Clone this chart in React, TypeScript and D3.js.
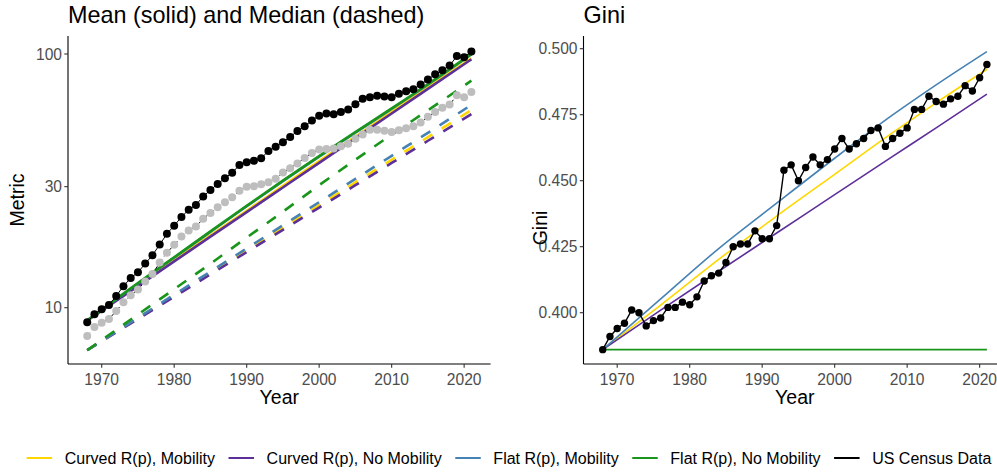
import React, { useEffect, useRef } from "react";
import * as d3 from "d3";

const W = 997;
const H = 472;

// ---------- Census data ----------
const years = [
  1968, 1969, 1970, 1971, 1972, 1973, 1974, 1975, 1976, 1977, 1978, 1979, 1980, 1981, 1982, 1983, 1984, 1985,
  1986, 1987, 1988, 1989, 1990, 1991, 1992, 1993, 1994, 1995, 1996, 1997, 1998, 1999, 2000, 2001, 2002, 2003,
  2004, 2005, 2006, 2007, 2008, 2009, 2010, 2011, 2012, 2013, 2014, 2015, 2016, 2017, 2018, 2019, 2020, 2021,
];
const censusMean = [
  8.76, 9.43, 9.87, 10.24, 11.12, 12.16, 13.09, 13.78, 14.92, 16.1, 17.73, 19.55, 21.06, 22.79, 24.31, 25.4, 27.46,
  29.07, 30.76, 32.41, 34.02, 36.52, 37.4, 37.92, 38.84, 41.43, 43.13, 44.94, 47.12, 49.69, 51.86, 54.74, 57.14,
  58.21, 57.85, 59.07, 60.47, 63.34, 66.57, 67.61, 68.42, 67.98, 67.53, 69.68, 71.27, 72.64, 75.74, 79.26, 83.14,
  86.22, 90.02, 98.09, 97.03, 102.32,
];
const censusMedian = [
  7.74, 8.39, 8.73, 9.03, 9.7, 10.51, 11.2, 11.8, 12.69, 13.57, 15.06, 16.46, 17.71, 19.07, 20.17, 20.89, 22.42,
  23.62, 24.9, 26.06, 27.23, 28.91, 29.94, 30.13, 30.64, 31.24, 32.26, 34.08, 35.49, 37.01, 38.89, 40.7, 41.99,
  42.23, 42.41, 43.32, 44.33, 46.33, 48.2, 50.23, 50.3, 49.78, 49.28, 50.05, 51.02, 51.94, 53.66, 56.52, 59.04,
  61.37, 63.18, 68.7, 67.52, 70.78,
];
const censusGini = [
  0.386, 0.391, 0.394, 0.396, 0.401, 0.4, 0.395, 0.397, 0.398, 0.402, 0.402, 0.404, 0.403, 0.406, 0.412, 0.414,
  0.415, 0.419, 0.425, 0.426, 0.426, 0.431, 0.428, 0.428, 0.433, 0.454, 0.456, 0.45, 0.455, 0.459, 0.456, 0.458,
  0.462, 0.466, 0.462, 0.464, 0.466, 0.469, 0.47, 0.463, 0.466, 0.468, 0.47, 0.477, 0.477, 0.482, 0.48, 0.479,
  0.481, 0.482, 0.486, 0.484, 0.489, 0.494,
];

// ---------- Model lines (read at selected years) ----------
const modelYears = [1968, 1975, 1980, 1985, 1990, 1995, 2000, 2005, 2010, 2015, 2021];
const meanCurvedMob = [8.9, 12.3, 15.4, 19.3, 24.1, 30.2, 37.8, 47.3, 59.1, 73.9, 96.2];
const meanCurvedNoMob = [8.9, 12.17, 15.22, 19.05, 23.81, 29.78, 37.25, 46.6, 58.3, 72.9, 95.3];
const meanFlatMob = [8.9, 12.45, 15.75, 19.9, 25.1, 31.55, 39.4, 49.0, 60.7, 75.7, 99.6];
const meanFlatNoMob = [8.9, 12.5, 15.8, 20.0, 25.2, 31.7, 39.6, 49.2, 61.0, 76.0, 100.0];
const medianCurvedMob = [6.8, 9.07, 11.14, 13.69, 16.81, 20.65, 25.37, 31.2, 38.3, 47.0, 60.1];
const medianCurvedNoMob = [6.8, 9.03, 11.05, 13.53, 16.56, 20.27, 24.81, 30.4, 37.2, 45.5, 58.0];
const medianFlatMob = [6.8, 9.12, 11.26, 13.88, 17.13, 21.13, 26.07, 32.2, 39.7, 48.9, 63.0];
const medianFlatNoMob = [6.8, 9.4, 11.83, 14.91, 18.9, 23.9, 30.4, 38.3, 48.1, 60.0, 78.5];

const giniYears = [1968, 1976, 1984, 1992, 2000, 2008, 2014, 2021];
const giniCurvedMob = [0.386, 0.4029, 0.4202, 0.4366, 0.4524, 0.4682, 0.4795, 0.4922];
const giniCurvedNoMob = [0.386, 0.401, 0.4157, 0.4302, 0.4447, 0.4592, 0.47, 0.4828];
const giniFlatMob = [0.386, 0.4052, 0.4243, 0.4415, 0.4585, 0.4749, 0.4863, 0.4989];
const giniFlatNoMob = [0.386, 0.386, 0.386, 0.386, 0.386, 0.386, 0.386, 0.386];

const xTicks = [1970, 1980, 1990, 2000, 2010, 2020];
const metricTicks = [10, 30, 100];
const giniTicks = [0.4, 0.425, 0.45, 0.475, 0.5];

const seriesNames = [
  "Curved R(p), Mobility",
  "Curved R(p), No Mobility",
  "Flat R(p), Mobility",
  "Flat R(p), No Mobility",
  "US Census Data",
];
const seriesColors = ["#FFD700", "#5D2F99", "#4682B4", "#18951A", "#000000"];

const FONT = "'Liberation Sans', Arial, Helvetica, sans-serif";

export default function App() {
  const ref = useRef<SVGSVGElement | null>(null);

  useEffect(() => {
    const svg = d3.select(ref.current);
    svg.selectAll("*").remove();
    svg.attr("font-family", FONT);

    const top = 36;
    const bottom = 364;
    const xDomain: [number, number] = [1965.35, 2023.65];
    const smooth = d3.curveMonotoneX;

    // ------- Left panel -------
    const L = { left: 68, right: 490.6 };
    const xL = d3.scaleLinear().domain(xDomain).range([L.left, L.right]);
    const yL = d3.scaleLog().domain([10, 100]).range([307.7, 54]);

    const gL = svg.append("g");
    const lineL = (ys: number[]) =>
      d3
        .line<number>()
        .curve(smooth)
        .x((_, i) => xL(modelYears[i]))
        .y((d) => yL(d))(ys);

    const solid = [meanCurvedMob, meanCurvedNoMob, meanFlatMob, meanFlatNoMob];
    const dashed = [medianCurvedMob, medianCurvedNoMob, medianFlatMob, medianFlatNoMob];
    dashed.forEach((s, i) => {
      gL.append("path")
        .attr("d", lineL(s))
        .attr("fill", "none")
        .attr("stroke", seriesColors[i])
        .attr("stroke-width", 2.6)
        .attr("stroke-dasharray", "11,11");
    });
    solid.forEach((s, i) => {
      gL.append("path")
        .attr("d", lineL(s))
        .attr("fill", "none")
        .attr("stroke", seriesColors[i])
        .attr("stroke-width", 2.6);
    });

    const cLine = (vals: number[]) =>
      d3
        .line<number>()
        .x((_, i) => xL(years[i]))
        .y((d) => yL(d))(vals);
    gL.append("path")
      .attr("d", cLine(censusMean))
      .attr("fill", "none")
      .attr("stroke", "#000")
      .attr("stroke-width", 1);
    gL.append("path")
      .attr("d", cLine(censusMedian))
      .attr("fill", "none")
      .attr("stroke", "#000")
      .attr("stroke-width", 1)
      .attr("stroke-dasharray", "4,4");
    gL.selectAll("circle.mean")
      .data(censusMean)
      .join("circle")
      .attr("class", "mean")
      .attr("cx", (_, i) => xL(years[i]))
      .attr("cy", (d) => yL(d))
      .attr("r", 4)
      .attr("fill", "#000");
    gL.selectAll("circle.med")
      .data(censusMedian)
      .join("circle")
      .attr("class", "med")
      .attr("cx", (_, i) => xL(years[i]))
      .attr("cy", (d) => yL(d))
      .attr("r", 4)
      .attr("fill", "#BEBEBE");

    const axisColor = "#000";
    const tickColor = "#333333";
    const labColor = "#4D4D4D";
    gL.append("line")
      .attr("x1", L.left).attr("x2", L.left).attr("y1", top).attr("y2", bottom)
      .attr("stroke", axisColor).attr("stroke-width", 1.1);
    gL.append("line")
      .attr("x1", L.left).attr("x2", L.right).attr("y1", bottom).attr("y2", bottom)
      .attr("stroke", axisColor).attr("stroke-width", 1.1);
    metricTicks.forEach((t) => {
      gL.append("line")
        .attr("x1", L.left - 3.7).attr("x2", L.left).attr("y1", yL(t)).attr("y2", yL(t))
        .attr("stroke", tickColor).attr("stroke-width", 1.1);
      gL.append("text")
        .attr("x", L.left - 6).attr("y", yL(t)).attr("dy", "0.36em")
        .attr("text-anchor", "end").attr("font-size", 15.6).attr("fill", labColor)
        .text(String(t));
    });
    xTicks.forEach((t) => {
      gL.append("line")
        .attr("x1", xL(t)).attr("x2", xL(t)).attr("y1", bottom).attr("y2", bottom + 3.7)
        .attr("stroke", tickColor).attr("stroke-width", 1.1);
      gL.append("text")
        .attr("x", xL(t)).attr("y", bottom + 6).attr("dy", "0.95em")
        .attr("text-anchor", "middle").attr("font-size", 15.6).attr("fill", labColor)
        .text(String(t));
    });
    gL.append("text")
      .attr("x", (L.left + L.right) / 2).attr("y", 404)
      .attr("text-anchor", "middle").attr("font-size", 19.5).attr("fill", "#000")
      .text("Year");
    gL.append("text")
      .attr("transform", `translate(24, ${(top + bottom) / 2}) rotate(-90)`)
      .attr("text-anchor", "middle").attr("font-size", 19.5).attr("fill", "#000")
      .text("Metric");
    gL.append("text")
      .attr("x", L.left).attr("y", 23)
      .attr("font-size", 23.4).attr("fill", "#000")
      .text("Mean (solid) and Median (dashed)");

    // ------- Right panel -------
    const R = { left: 583.5, right: 1006.1 };
    const xR = d3.scaleLinear().domain(xDomain).range([R.left, R.right]);
    const yR = d3.scaleLinear().domain([0.4, 0.5]).range([312.7, 48.7]);
    const gR = svg.append("g");
    const giniLines = [giniCurvedMob, giniCurvedNoMob, giniFlatMob, giniFlatNoMob];
    const lineR = d3
      .line<number>()
      .curve(smooth)
      .x((_, i) => xR(giniYears[i]))
      .y((d) => yR(d));
    giniLines.forEach((s, i) => {
      gR.append("path")
        .attr("d", lineR(s))
        .attr("fill", "none")
        .attr("stroke", seriesColors[i])
        .attr("stroke-width", 1.6);
    });
    gR.append("path")
      .attr(
        "d",
        d3
          .line<number>()
          .x((_, i) => xR(years[i]))
          .y((d) => yR(d))(censusGini)
      )
      .attr("fill", "none")
      .attr("stroke", "#000")
      .attr("stroke-width", 1.4);
    gR.selectAll("circle.gini")
      .data(censusGini)
      .join("circle")
      .attr("class", "gini")
      .attr("cx", (_, i) => xR(years[i]))
      .attr("cy", (d) => yR(d))
      .attr("r", 3.7)
      .attr("fill", "#000");

    gR.append("line")
      .attr("x1", R.left).attr("x2", R.left).attr("y1", top).attr("y2", bottom)
      .attr("stroke", axisColor).attr("stroke-width", 1.1);
    gR.append("line")
      .attr("x1", R.left).attr("x2", R.right).attr("y1", bottom).attr("y2", bottom)
      .attr("stroke", axisColor).attr("stroke-width", 1.1);
    giniTicks.forEach((t) => {
      gR.append("line")
        .attr("x1", R.left - 3.7).attr("x2", R.left).attr("y1", yR(t)).attr("y2", yR(t))
        .attr("stroke", tickColor).attr("stroke-width", 1.1);
      gR.append("text")
        .attr("x", R.left - 6).attr("y", yR(t)).attr("dy", "0.36em")
        .attr("text-anchor", "end").attr("font-size", 15.6).attr("fill", labColor)
        .text(d3.format(".3f")(t));
    });
    xTicks.forEach((t) => {
      gR.append("line")
        .attr("x1", xR(t)).attr("x2", xR(t)).attr("y1", bottom).attr("y2", bottom + 3.7)
        .attr("stroke", tickColor).attr("stroke-width", 1.1);
      gR.append("text")
        .attr("x", xR(t)).attr("y", bottom + 6).attr("dy", "0.95em")
        .attr("text-anchor", "middle").attr("font-size", 15.6).attr("fill", labColor)
        .text(String(t));
    });
    gR.append("text")
      .attr("x", (R.left + R.right) / 2).attr("y", 404)
      .attr("text-anchor", "middle").attr("font-size", 19.5).attr("fill", "#000")
      .text("Year");
    gR.append("text")
      .attr("transform", `translate(547, 228) rotate(-90)`)
      .attr("text-anchor", "middle").attr("font-size", 19.5).attr("fill", "#000")
      .text("Gini");
    gR.append("text")
      .attr("x", R.left).attr("y", 23)
      .attr("font-size", 23.4).attr("fill", "#000")
      .text("Gini");

    // ------- Legend -------
    const gLeg = svg.append("g");
    const keyW = 25.5;
    const keyGap = 12.6;
    const itemGap = 13.5;
    const ly = 458;
    const legendCenter = 509;
    const items = seriesNames.map((name, i) => {
      const g = gLeg.append("g");
      const line = g.append("line")
        .attr("y1", ly).attr("y2", ly)
        .attr("stroke", seriesColors[i]).attr("stroke-width", 2);
      const text = g.append("text")
        .attr("y", ly).attr("dy", "0.36em")
        .attr("font-size", 16).attr("fill", "#000")
        .text(name);
      const w = (text.node() as SVGTextElement).getComputedTextLength();
      return { line, text, w };
    });
    const total =
      items.reduce((a, it) => a + keyW + keyGap + it.w, 0) + itemGap * (items.length - 1);
    let cx = legendCenter - total / 2;
    items.forEach((it) => {
      it.line.attr("x1", cx).attr("x2", cx + keyW);
      it.text.attr("x", cx + keyW + keyGap);
      cx += keyW + keyGap + it.w + itemGap;
    });
  }, []);

  return (
    <svg
      ref={ref}
      width={W}
      height={H}
      style={{ position: "absolute", left: 0, top: 0, background: "#fff" }}
    />
  );
}
